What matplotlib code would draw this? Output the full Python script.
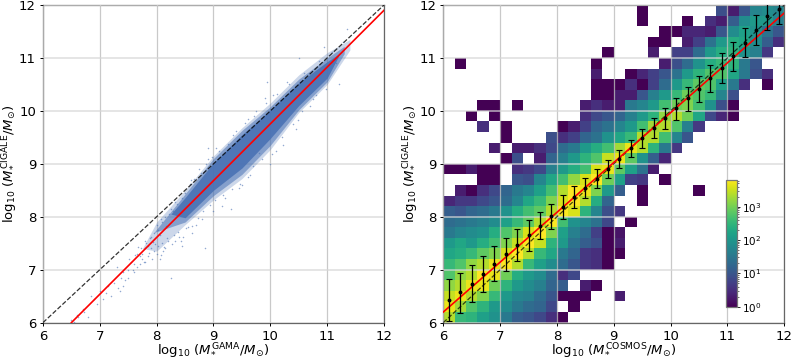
import numpy as np
import matplotlib
matplotlib.use("Agg")
import matplotlib.pyplot as plt
from matplotlib.colors import LogNorm

# ---- left panel: envelope of the dense cloud
band_x = [7.75, 8.0, 8.5, 9.0, 9.5, 10.0, 10.5, 11.0, 11.4]
fringe_hi = [7.4, 7.9, 8.5, 9.15, 9.68, 10.15, 10.68, 11.1, 11.35]
fringe_lo = [7.4, 7.35, 7.85, 8.32, 8.72, 9.27, 9.97, 10.5, 11.15]
mid_x = [7.95, 8.5, 9.0, 9.5, 10.0, 10.5, 11.0, 11.3]
mid_hi = [7.7, 8.43, 9.1, 9.63, 10.08, 10.6, 11.0, 11.22]
mid_lo = [7.7, 7.9, 8.4, 8.8, 9.35, 10.02, 10.55, 11.08]
dense_x = [8.25, 8.5, 9.0, 9.5, 10.0, 10.5, 11.0, 11.2]
dense_hi = [8.05, 8.36, 9.02, 9.55, 10.02, 10.53, 10.93, 11.07]
dense_lo = [8.05, 7.98, 8.5, 8.92, 9.48, 10.1, 10.62, 11.03]

# sparse individual points
sparse_x = [6.5, 6.55, 6.6, 6.62, 6.7, 6.72, 6.8, 6.85, 6.9, 6.95, 7.0, 7.05, 7.1, 7.15, 7.2, 7.25, 7.3, 7.32, 7.35,
            7.38, 7.4, 7.4, 7.45, 7.5, 7.5, 7.52, 7.55, 7.58, 7.6, 7.6, 7.65, 7.65, 7.7, 7.7, 7.72, 7.75, 7.78, 7.8, 7.8,
            7.8, 7.85, 7.85, 7.88, 7.9, 7.9, 7.92, 7.95, 7.95, 8.0, 8.0, 8.02, 8.05, 8.05, 8.1, 8.1, 8.12, 8.15, 8.15, 8.2,
            8.25, 8.25, 8.3, 8.35, 8.4, 8.45, 8.5, 8.55, 8.6, 8.63, 8.7, 8.75, 8.8, 8.85, 8.9, 9.0, 9.05, 9.2, 9.3,
            9.35, 9.45, 9.5, 9.6, 9.7, 9.75, 9.8, 9.9, 10.0, 10.05, 10.1, 10.2, 10.3, 10.4, 10.55, 10.7, 10.95, 11.15,
            11.2, 11.35, 9.6, 9.95, 10.45, 10.5, 10.8, 8.9, 9.15,
            7.62, 7.68, 7.74, 7.82, 7.86, 7.93, 7.97, 8.03, 8.07, 8.08, 8.13, 8.17, 8.18, 8.22, 8.27, 8.28, 8.32, 8.33,
            8.37, 8.42, 8.44, 8.47, 8.52, 8.58, 8.62, 8.66, 8.72, 8.78, 8.82, 8.87, 8.93, 8.97, 9.03, 9.1, 9.17, 9.25,
            9.33, 9.4, 9.47, 9.55, 9.65, 9.72, 9.85, 9.93, 10.03, 10.12, 10.22, 10.33, 10.48, 10.6, 10.75, 10.85, 10.98,
            11.08, 11.28]
sparse_y = [6.05, 6.02, 6.15, 6.1, 6.25, 6.2, 6.1, 6.5, 6.45, 6.35, 6.6, 6.45, 6.55, 6.7, 6.5, 6.75, 7.05, 6.65, 6.6,
            6.85, 6.7, 6.95, 6.8, 6.85, 7.0, 7.2, 7.15, 7.0, 7.1, 6.95, 7.3, 7.05, 7.1, 7.25, 7.4, 7.3, 7.15, 7.15, 7.4,
            7.55, 7.25, 7.45, 7.6, 7.4, 7.62, 7.2, 7.7, 7.35, 7.3, 7.85, 7.45, 7.2, 7.65, 7.5, 7.9, 7.35, 7.4, 8.0, 7.55,
            6.85, 8.15, 7.65, 8.25, 7.62, 7.45, 8.45, 7.8, 8.7, 7.7, 7.85, 8.9, 7.95, 7.4, 9.1, 8.1, 9.3, 8.35, 8.15,
            9.55, 8.55, 8.6, 9.85, 8.95, 10.0, 9.2, 10.25, 9.0, 10.3, 9.25, 9.5, 10.55, 9.75, 10.0, 10.1, 11.2, 10.9,
            10.5, 11.55, 8.75, 10.55, 9.65, 11.0, 10.3, 9.3, 8.2,
            7.28, 7.42, 7.2, 7.5, 7.32, 7.52, 7.48, 7.75, 7.28, 7.95, 7.42, 7.82, 7.6, 8.05, 7.48, 8.1, 7.55, 8.28,
            7.72, 7.55, 8.35, 7.62, 7.78, 8.62, 7.82, 8.72, 7.98, 8.82, 8.1, 9.0, 8.22, 9.12, 8.32, 9.25, 8.42, 9.38,
            8.52, 9.62, 8.62, 9.78, 8.78, 9.9, 9.1, 10.15, 9.18, 10.32, 9.35, 10.5, 9.82, 10.72, 10.22, 10.95, 10.42,
            11.12, 11.3]

# fitted lines, end points
line_left_x = [6.5, 12.0]
line_left_y = [6.0, 11.9]
line_right_x = [6.0, 12.0]
line_right_y = [6.2, 11.85]
one_to_one = [6.0, 12.0]

# ---- right panel: log10(count) x 10 per cell, {column: value}; row 0 is the top row (11.8-12)
hist_rows = [
    {17: 0, 24: 9, 25: 3, 26: 10, 27: 17, 28: 18, 29: 17},
    {17: 0, 21: 0, 23: 5, 24: 3, 25: 11, 26: 18, 27: 20, 28: 20, 29: 16},
    {19: 0, 20: 0, 21: 4, 22: 4, 23: 3, 24: 10, 25: 18, 26: 21, 27: 19, 28: 14, 29: 10},
    {18: 0, 19: 0, 21: 3, 22: 7, 23: 14, 24: 20, 25: 23, 26: 22, 27: 18, 28: 11, 29: 5},
    {14: 0, 18: 3, 20: 7, 21: 7, 22: 13, 23: 20, 24: 23, 25: 24, 26: 19, 27: 16, 28: 6},
    {1: 0, 13: 0, 19: 3, 20: 9, 21: 13, 22: 19, 23: 23, 24: 25, 25: 24, 26: 15, 27: 10},
    {13: 3, 16: 0, 17: 4, 18: 7, 19: 10, 20: 14, 21: 20, 22: 24, 23: 27, 24: 27, 25: 22, 26: 15, 27: 9, 28: 5},
    {13: 0, 14: 0, 15: 0, 16: 5, 17: 0, 18: 7, 19: 13, 20: 20, 21: 25, 22: 28, 23: 27, 24: 21, 25: 15, 26: 5, 28: 0},
    {13: 0, 14: 0, 15: 3, 16: 3, 17: 10, 18: 16, 19: 20, 20: 25, 21: 29, 22: 27, 23: 25, 24: 17, 25: 9},
    {3: 0, 4: 0, 6: 0, 12: 3, 13: 5, 14: 3, 15: 3, 16: 15, 17: 17, 18: 20, 19: 26, 20: 29, 21: 30, 22: 26, 23: 19, 24: 9, 25: 0},
    {2: 0, 4: 0, 12: 5, 13: 8, 14: 10, 15: 12, 16: 16, 17: 20, 18: 24, 19: 31, 20: 33, 21: 29, 22: 22, 23: 8, 24: 4, 25: 0},
    {3: 5, 5: 0, 10: 0, 11: 3, 12: 7, 13: 12, 14: 14, 15: 17, 16: 20, 17: 26, 18: 32, 19: 33, 20: 27, 21: 16, 22: 6},
    {5: 0, 9: 9, 10: 5, 11: 7, 12: 12, 13: 14, 14: 19, 15: 22, 16: 25, 17: 33, 18: 33, 19: 26, 20: 17, 21: 10},
    {4: 3, 6: 3, 7: 3, 8: 5, 9: 8, 10: 13, 11: 15, 12: 20, 13: 23, 14: 26, 15: 32, 16: 36, 17: 33, 18: 24, 19: 15, 20: 6},
    {5: 0, 6: 9, 8: 3, 9: 12, 10: 16, 11: 20, 12: 24, 13: 27, 14: 34, 15: 36, 16: 28, 17: 19, 18: 11, 19: 4},
    {0: 0, 1: 0, 2: 3, 3: 0, 4: 0, 6: 5, 7: 6, 8: 8, 9: 16, 10: 20, 11: 23, 12: 26, 13: 35, 14: 36, 15: 28, 16: 21, 17: 14, 18: 3},
    {3: 0, 4: 0, 6: 10, 7: 9, 8: 17, 9: 22, 10: 26, 11: 31, 12: 35, 13: 37, 14: 29, 15: 21, 16: 7, 17: 6, 19: 0},
    {1: 3, 2: 0, 3: 5, 4: 8, 5: 12, 6: 15, 7: 17, 8: 21, 9: 26, 10: 33, 11: 37, 12: 36, 13: 30, 14: 20, 15: 11, 17: 0, 22: 0},
    {0: 4, 1: 6, 2: 6, 3: 8, 4: 10, 5: 13, 6: 17, 7: 22, 8: 25, 9: 30, 10: 35, 11: 37, 12: 33, 13: 23, 14: 12, 17: 0},
    {0: 11, 1: 10, 2: 12, 3: 13, 4: 15, 5: 19, 6: 23, 7: 26, 8: 28, 9: 33, 10: 37, 11: 35, 12: 24, 13: 17, 14: 9, 15: 6},
    {0: 13, 1: 14, 2: 15, 3: 16, 4: 18, 5: 21, 6: 25, 7: 28, 8: 33, 9: 37, 10: 26, 11: 19, 12: 17, 13: 14, 14: 8, 16: 0},
    {0: 15, 1: 17, 2: 18, 3: 19, 4: 23, 5: 27, 6: 30, 7: 35, 8: 38, 9: 30, 10: 21, 11: 16, 12: 13, 13: 7, 14: 0, 15: 2},
    {0: 20, 1: 22, 2: 20, 3: 23, 4: 26, 5: 30, 6: 34, 7: 37, 8: 34, 9: 24, 10: 20, 11: 14, 12: 11, 13: 9, 14: 0, 15: 3},
    {0: 22, 1: 23, 2: 25, 3: 28, 4: 30, 5: 35, 6: 37, 7: 33, 8: 25, 9: 22, 10: 15, 11: 12, 12: 6, 13: 5, 14: 0, 15: 0},
    {0: 25, 1: 27, 2: 31, 3: 33, 4: 36, 5: 37, 6: 33, 7: 25, 8: 21, 9: 18, 10: 13, 11: 10, 12: 6, 13: 5, 14: 0},
    {0: 27, 1: 31, 2: 33, 3: 37, 4: 36, 5: 29, 6: 23, 7: 20, 8: 18, 9: 13, 10: 5, 11: 8},
    {0: 31, 1: 33, 2: 36, 3: 36, 4: 29, 5: 24, 6: 20, 7: 18, 8: 16, 9: 12, 10: 11, 12: 3, 13: 0},
    {0: 34, 1: 36, 2: 33, 3: 30, 4: 25, 5: 20, 6: 17, 7: 16, 8: 13, 9: 10, 10: 0, 11: 0, 12: 0, 15: 3},
    {0: 36, 1: 32, 2: 27, 3: 24, 4: 20, 5: 18, 6: 15, 7: 13, 8: 12, 9: 8, 11: 0},
    {0: 33, 1: 25, 2: 24, 3: 21, 4: 19, 5: 15, 6: 11, 7: 10, 8: 8, 9: 5, 10: 0},
]

# binned medians with their error bars
med_x = [6.1, 6.3, 6.5, 6.7, 6.9, 7.1, 7.3, 7.5, 7.7, 7.9, 8.1, 8.3, 8.5, 8.7, 8.9,
         9.1, 9.3, 9.5, 9.7, 9.9, 10.1, 10.3, 10.5, 10.7, 10.9, 11.1, 11.3, 11.5, 11.7, 11.9]
med_y = [6.43, 6.57, 6.73, 6.92, 7.11, 7.29, 7.46, 7.65, 7.83, 8.01, 8.19, 8.37, 8.55, 8.72, 8.91,
         9.10, 9.30, 9.48, 9.67, 9.86, 10.05, 10.24, 10.42, 10.62, 10.81, 11.04, 11.29, 11.53, 11.79, 11.92]
med_hi = [6.83, 6.94, 7.09, 7.26, 7.44, 7.59, 7.77, 7.93, 8.09, 8.25, 8.42, 8.58, 8.74, 8.91, 9.08,
          9.26, 9.45, 9.65, 9.86, 10.05, 10.25, 10.46, 10.66, 10.87, 11.09, 11.31, 11.56, 11.82, 12.01, 12.12]
med_lo = [6.03, 6.18, 6.38, 6.58, 6.78, 6.98, 7.16, 7.36, 7.57, 7.76, 7.96, 8.16, 8.35, 8.54, 8.74,
          8.93, 9.12, 9.30, 9.48, 9.65, 9.83, 10.0, 10.17, 10.35, 10.53, 10.76, 11.01, 11.25, 11.52, 11.64]

ticks = [6, 7, 8, 9, 10, 11, 12]
cbar_max = 6300
tenths_per_decade = 9.8  # my colour reading ran slightly dark against the colour bar
W, H = 793, 360

fig = plt.figure(figsize=(W / 100, H / 100), dpi=100)
ax1 = fig.add_axes([43 / W, 1 - 322.6 / H, 341 / W, 317.6 / H])
ax2 = fig.add_axes([443.3 / W, 1 - 322.6 / H, 341 / W, 317.6 / H])

for ax in (ax1, ax2):
    ax.set_xlim(6, 12)
    ax.set_ylim(6, 12)
    ax.set_xticks(ticks)
    ax.set_yticks(ticks)
    ax.tick_params(labelsize=9.5, length=2.5, width=0.7, pad=2.5)
    ax.tick_params(axis='x', pad=3)
    ax.xaxis.grid(True, color='#bcbcbc', lw=0.9, alpha=0.8)
    ax.yaxis.grid(True, color='#d6d6d6', lw=1.2, alpha=0.75)
    ax.set_axisbelow(False)
    ax.set_ylabel(r'$\log_{10}\,(M_{*}^{\mathrm{CIGALE}}/M_{\odot})$', fontsize=9.5, labelpad=-1)
    for s in ax.spines.values():
        s.set_linewidth(0.9)
        s.set_color('#666666')

cloud = '#4a72b4'
ax1.fill_between(band_x, fringe_lo, fringe_hi, color=cloud, alpha=0.28, lw=0, zorder=2.6)
ax1.fill_between(mid_x, mid_lo, mid_hi, color=cloud, alpha=0.55, lw=0, zorder=2.7)
ax1.fill_between(dense_x, dense_lo, dense_hi, color=cloud, alpha=0.9, lw=0, zorder=2.8)
ax1.scatter(sparse_x, sparse_y, s=1.2, color=cloud, alpha=0.6, lw=0, zorder=2.9)
ax1.plot(one_to_one, one_to_one, color='black', ls='--', lw=0.9, alpha=0.8, zorder=3)
ax1.plot(line_left_x, line_left_y, color='red', lw=1.2, zorder=3)
ax1.set_xlabel(r'$\log_{10}\,(M_{*}^{\mathrm{GAMA}}/M_{\odot})$', fontsize=9.5, labelpad=-0.8)

n = len(hist_rows)
counts = np.full((n, n), np.nan)
for r, row in enumerate(hist_rows):
    for c, tenth in row.items():
        counts[n - 1 - r, c] = 10 ** (tenth / tenths_per_decade)
edges = np.linspace(6, 12, n + 1)
mesh = ax2.pcolormesh(edges, edges, np.ma.masked_invalid(counts), cmap='viridis',
                      norm=LogNorm(vmin=1, vmax=cbar_max), zorder=1)
ax2.plot(one_to_one, one_to_one, color='black', ls='--', lw=0.9, alpha=0.7, zorder=3)
ax2.plot(line_right_x, line_right_y, color='red', lw=1.2, zorder=3)
med_y_a, med_hi_a, med_lo_a = map(np.array, (med_y, med_hi, med_lo))
ax2.errorbar(med_x, med_y, yerr=[med_y_a - med_lo_a, med_hi_a - med_y_a], fmt='o', ms=1.8,
             color='black', ecolor='black', elinewidth=0.9, capsize=2.0, capthick=0.8, zorder=4)
ax2.set_xlabel(r'$\log_{10}\,(M_{*}^{\mathrm{COSMOS}}/M_{\odot})$', fontsize=9.5, labelpad=-0.8)

cax = fig.add_axes([726 / W, 1 - 306.7 / H, 10.7 / W, 126.7 / H])
cb = fig.colorbar(mesh, cax=cax)
cb.set_ticks([1, 10, 100, 1000])
cb.ax.tick_params(labelsize=7.5, length=2.2, width=0.6, pad=1.5)
cb.ax.tick_params(which='minor', length=1.3, width=0.4)
cb.outline.set_edgecolor('#777777')
cb.outline.set_linewidth(0.9)

fig.savefig('out.png', dpi=100)
